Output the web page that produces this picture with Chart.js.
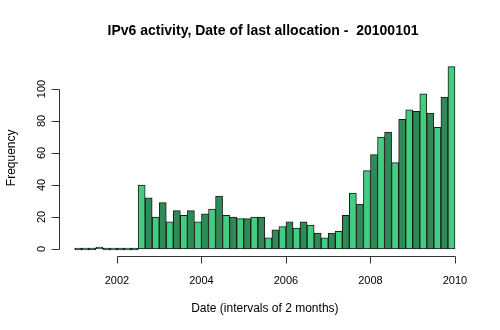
<!DOCTYPE html>
<html>
<head>
<meta charset="utf-8">
<script src="https://cdn.jsdelivr.net/npm/chart.js@4/dist/chart.umd.min.js"></script>
<style>
html,body{margin:0;padding:0;background:#fff;}
#wrap{width:500px;height:330px;position:relative;}
</style>
</head>
<body>
<div id="wrap"><canvas id="c" width="500" height="330"></canvas></div>
<script>
// ---- data ----
const titleText = "IPv6 activity, Date of last allocation -  20100101";
const xAxisTitle = "Date (intervals of 2 months)";
const yAxisTitle = "Frequency";
const binStartYear = 2001;          // first bin starts Jan 2001
const binWidthYears = 2 / 12;       // 2-month bins
const counts = [0, 0, 0, 1, 0, 0, 0, 0, 0,
  40, 32, 20, 29, 17, 24, 21, 24, 17, 22, 25, 33, 21, 20, 19, 19, 20, 20,
  7, 12, 14, 17, 13, 17, 15, 10, 7, 10, 11, 21, 35, 28, 49, 59, 70, 73,
  54, 81, 87, 86, 97, 85, 76, 95, 114];
const xTicks = [2002, 2004, 2006, 2008, 2010];
const yTicks = [0, 20, 40, 60, 80, 100];

// ---- build ----
const points = counts.map((v, i) => ({ x: binStartYear + (i + 0.5) * binWidthYears, y: v }));
const lightGreen = '#43CD80', darkGreen = '#2E8B57';
const colors = counts.map((v, i) => (i % 2 === 1 ? lightGreen : darkGreen));

const xMin = binStartYear, xMax = binStartYear + counts.length * binWidthYears;
const xPad = (xMax - xMin) * 0.04;
const yMaxData = Math.max(...counts);
const yPad = yMaxData * 0.04;

const FONT = '"Liberation Sans", Arial, Helvetica, sans-serif';

const axesPlugin = {
  id: 'rAxes',
  beforeDraw(chart) {
    const ctx = chart.ctx;
    ctx.save();
    ctx.fillStyle = '#fff';
    ctx.fillRect(0, 0, chart.width, chart.height);
    ctx.restore();
  },
  afterDraw(chart) {
    const ctx = chart.ctx;
    const xs = chart.scales.x, ys = chart.scales.y;
    const area = chart.chartArea;
    ctx.save();
    ctx.strokeStyle = '#333';
    ctx.lineWidth = 1;
    ctx.fillStyle = '#000';

    // x axis
    const axY = Math.round(area.bottom) + 0.5;
    const x0 = Math.round(xs.getPixelForValue(xTicks[0])) + 0.5;
    const x1 = Math.round(xs.getPixelForValue(xTicks[xTicks.length - 1])) + 0.5;
    ctx.beginPath();
    ctx.moveTo(x0, axY); ctx.lineTo(x1, axY);
    xTicks.forEach(t => {
      const px = Math.round(xs.getPixelForValue(t)) + 0.5;
      ctx.moveTo(px, axY); ctx.lineTo(px, axY + 7);
    });
    ctx.stroke();
    ctx.font = '11px ' + FONT;
    ctx.textAlign = 'center';
    ctx.textBaseline = 'alphabetic';
    xTicks.forEach(t => {
      ctx.fillText(String(t), xs.getPixelForValue(t), 284);
    });

    // y axis
    const axX = Math.round(area.left) - 0.5;
    const y0 = Math.round(ys.getPixelForValue(yTicks[0])) + 0.5;
    const y1 = Math.round(ys.getPixelForValue(yTicks[yTicks.length - 1])) + 0.5;
    ctx.beginPath();
    ctx.moveTo(axX, y0); ctx.lineTo(axX, y1);
    yTicks.forEach(t => {
      const py = Math.round(ys.getPixelForValue(t)) + 0.5;
      ctx.moveTo(axX, py); ctx.lineTo(axX - 8, py);
    });
    ctx.stroke();
    yTicks.forEach(t => {
      const py = ys.getPixelForValue(t);
      ctx.save();
      ctx.translate(45, py);
      ctx.rotate(-Math.PI / 2);
      ctx.textAlign = 'center';
      ctx.fillText(String(t), 0, 0);
      ctx.restore();
    });

    // axis titles
    ctx.font = '12px ' + FONT;
    ctx.textAlign = 'center';
    ctx.fillText(xAxisTitle, (area.left + area.right) / 2, 312);
    ctx.save();
    ctx.translate(15, (area.top + area.bottom) / 2);
    ctx.rotate(-Math.PI / 2);
    ctx.fillText(yAxisTitle, 0, 0);
    ctx.restore();

    // main title
    ctx.font = 'bold 14px ' + FONT;
    ctx.fillText(titleText, 263, 35);
    ctx.restore();
  }
};

new Chart(document.getElementById('c'), {
  type: 'bar',
  data: {
    datasets: [{
      data: points,
      backgroundColor: colors,
      borderColor: '#1a1a1a',
      borderWidth: 1,
      borderSkipped: false,
      minBarLength: 2,
      barPercentage: 1,
      categoryPercentage: 1
    }]
  },
  options: {
    responsive: false,
    animation: false,
    devicePixelRatio: 1,
    layout: { padding: { left: 59.5, right: 29.8, top: 59.3, bottom: 73.7 } },
    plugins: { legend: { display: false }, title: { display: false }, tooltip: { enabled: false } },
    scales: {
      x: { type: 'linear', display: false, min: xMin - xPad, max: xMax + xPad, offset: false },
      y: { type: 'linear', display: false, min: -yPad, max: yMaxData + yPad }
    }
  },
  plugins: [axesPlugin]
});
</script>
</body>
</html>
